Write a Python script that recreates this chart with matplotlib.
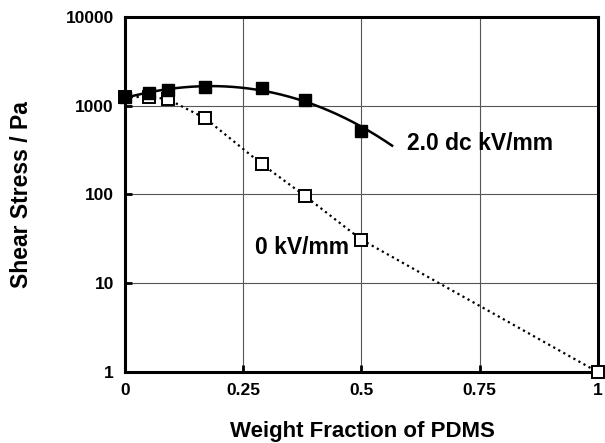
import numpy as np
import matplotlib.pyplot as plt

plt.rcParams['font.family'] = ['Liberation Sans', 'DejaVu Sans']
plt.rcParams['font.weight'] = 'bold'

# Data
frac_on = [0.0, 0.05, 0.09, 0.17, 0.29, 0.38, 0.50]
stress_on = [1256, 1400, 1500, 1610, 1570, 1160, 520]
# the solid curve runs on a little past the last marker
curve_end_frac = 0.565
curve_end_stress = 377

frac_off = [0.0, 0.05, 0.09, 0.17, 0.29, 0.38, 0.50, 1.0]
stress_off = [1250, 1260, 1190, 720, 219, 97, 31, 1]

xticks = [0, 0.25, 0.5, 0.75, 1]
xticklabels = ["0", "0.25", "0.5", "0.75", "1"]
yticks = [1, 10, 100, 1000, 10000]
yticklabels = ["1", "10", "100", "1000", "10000"]

fig = plt.figure(figsize=(6.05, 4.43), dpi=100)
ax = fig.add_axes([0.2066, 0.1603, 0.7814, 0.8013])

# smooth trend through the field-on data (fit in log space)
xc = frac_on + [curve_end_frac]
yc = stress_on + [curve_end_stress]
c = np.polyfit(xc, np.log10(yc), 3)
xf = np.linspace(0, curve_end_frac, 200)
ax.plot(xf, 10**np.polyval(c, xf), color='black', lw=1.8, zorder=3)

ax.plot(frac_off, stress_off, color='black', lw=1.6, ls=(0, (1, 1.6)), zorder=3)
ax.plot(frac_off, stress_off, ls='none', marker='s', ms=8, mfc='white',
        mec='black', mew=1.4, zorder=4, clip_on=False)
ax.plot(frac_on, stress_on, ls='none', marker='s', ms=8.5, mfc='black',
        mec='black', zorder=5, clip_on=False)

ax.set_yscale('log')
ax.set_xlim(0, 1)
ax.set_ylim(1, 10000)
ax.set_xticks(xticks)
ax.set_xticklabels(xticklabels)
ax.set_yticks(yticks)
ax.set_yticklabels(yticklabels)
ax.minorticks_off()
ax.grid(True, color='#555555', lw=0.8)
ax.set_axisbelow(True)
for s in ax.spines.values():
    s.set_linewidth(2.2)
ax.tick_params(direction='in', length=5, width=2, labelsize=12.5, pad=8)

ax.text(0.596, 380, "2.0 dc kV/mm", fontsize=16.5, fontweight='bold', va='center')
ax.text(0.275, 25.6, "0 kV/mm", fontsize=16.5, fontweight='bold', va='center')

fig.text(0.599, 0.025, "Weight Fraction of PDMS", fontsize=16,
         fontweight='bold', ha='center', va='center')
fig.text(0.035, 0.5617, "Shear Stress / Pa", fontsize=16.5, fontweight='bold',
         ha='center', va='center', rotation=90)

fig.savefig("out.png", dpi=100)
